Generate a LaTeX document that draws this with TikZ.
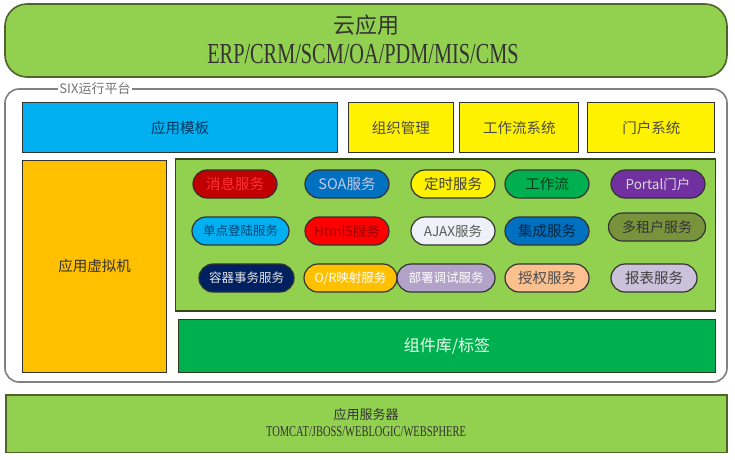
\documentclass[tikz,border=0pt]{standalone}
\usepackage{fontspec}
\setmainfont{Noto Sans CJK SC}
\newfontfamily\narrowserif{Liberation Serif}[FakeStretch=0.7]
\definecolor{cloudgreen}{HTML}{92D050}
\definecolor{edgegreen}{HTML}{4F6228}
\definecolor{skyblue}{HTML}{00B0F0}
\definecolor{seablue}{HTML}{0070C0}
\definecolor{darkred}{HTML}{C00000}
\definecolor{leafgreen}{HTML}{00B050}
\definecolor{amber}{HTML}{FFC000}
\definecolor{violet}{HTML}{7030A0}
\definecolor{navy}{HTML}{002060}
\definecolor{olive}{HTML}{77933C}
\definecolor{paleblue}{HTML}{EEF2F8}
\definecolor{lilac}{HTML}{B3A2C7}
\definecolor{peach}{HTML}{FAC090}
\definecolor{lavender}{HTML}{CCC1DA}
\tikzset{
    Box/.style = {rectangle, draw=black!80, line width=1.1pt, inner sep=0pt}
}
\tikzset{
    Pill/.style = {rectangle, rounded corners=14pt, draw=black!80, line width=1.2pt,
        minimum height=28, inner sep=0pt, font=\fontsize{14.5}{15}\selectfont}
}

\begin{document}
\begin{tikzpicture}[
    x=1pt, y=-1pt,
    font=\fontsize{14.5}{16}\selectfont
]
\tikzset{
    Label/.style = {inner sep=0pt, text=black!80},
}
\useasboundingbox (0,0) rectangle (735,459);

% cloud applications
\node[Box, fill=cloudgreen, draw=edgegreen, line width=1.6pt, rounded corners=22pt,
    minimum width=722, minimum height=73] at (366,40.5) (cloud) {};
\node[Label, font=\fontsize{22}{24}\selectfont] at (366,25) (cloudtitle) {云应用};
\node[Label, font=\narrowserif\fontsize{29}{30}\selectfont] at (363,54.5) (cloudapps)
    {ERP/CRM/SCM/OA/PDM/MIS/CMS};

% runtime platform
\node[Box, fill=white, draw=black!50, line width=1.6pt, rounded corners=14pt,
    minimum width=722, minimum height=293] at (366,235.5) (platform) {};
\node[fill=white, inner sep=1pt, text=black!55, font=\fontsize{13}{14}\selectfont]
    at (95,89) (platformtitle) {SIX运行平台};

\node[Box, fill=skyblue, text=seablue!50!black, minimum width=315, minimum height=50]
    at (180.2,127.7) (template) {应用模板};
\node[Box, fill=yellow, text=black!70, minimum width=105.7, minimum height=50]
    at (400.9,127.7) (org) {组织管理};
\node[Box, fill=yellow, text=black!70, minimum width=119, minimum height=50]
    at (519.4,127.7) (workflow) {工作流系统};
\node[Box, fill=yellow, text=black!70, minimum width=127, minimum height=50]
    at (651.4,127.7) (portal) {门户系统};
\node[Box, fill=amber, text=black!80, minimum width=144, minimum height=212]
    at (94.7,266.2) (vm) {应用虚拟机};
\node[Box, fill=cloudgreen, draw=edgegreen!70!black, minimum width=540, minimum height=152]
    at (445.7,235) (services) {};
\node[Box, fill=leafgreen, text=white!92!green, draw=edgegreen!60!black,
    minimum width=537.4, minimum height=53, font=\fontsize{16}{18}\selectfont]
    at (447,345.8) (components) {组件库/标签};

% services
\node[Pill, fill=darkred, text=red!80!white, minimum width=84] at (235,184) (msg) {消息服务};
\node[Pill, fill=seablue, text=blue!15!white!80!gray, minimum width=84] at (347,184) (soa) {SOA服务};
\node[Pill, fill=yellow, text=black!75, minimum width=84] at (453,184) (timer) {定时服务};
\node[Pill, fill=leafgreen, text=leafgreen!35!black, minimum width=84] at (547,184) (flow) {工作流};
\node[Pill, fill=violet, text=black!15, minimum width=94,
    font=\fontsize{13.5}{14}\selectfont] at (658,184) (portalsvc) {Portal门户};

\node[Pill, fill=skyblue, text=seablue!60!black, minimum width=97,
    font=\fontsize{12.5}{14}\selectfont] at (240.5,231) (sso) {单点登陆服务};
\node[Pill, fill=red, text=darkred!80!black, minimum width=84,
    font=\fontsize{13.5}{14}\selectfont] at (347,231) (html) {Html5服务};
\node[Pill, fill=paleblue, text=black!65, minimum width=84,
    font=\fontsize{13.5}{14}\selectfont] at (453,231) (ajax) {AJAX服务};
\node[Pill, fill=seablue, text=seablue!35!black, minimum width=84] at (547,231) (integ) {集成服务};
\node[Pill, fill=olive, text=black!80, minimum width=97,
    font=\fontsize{14}{15}\selectfont] at (657,227) (tenant) {多租户服务};

\node[Pill, fill=navy, text=black!10, minimum width=95,
    font=\fontsize{12.5}{14}\selectfont] at (246.5,278) (container) {容器事务服务};
\node[Pill, fill=amber, text=white, minimum width=93,
    font=\fontsize{12.5}{14}\selectfont] at (350.5,278) (orm) {O/R映射服务};
\node[Pill, fill=lilac, text=white, minimum width=98,
    font=\fontsize{12.5}{14}\selectfont] at (446,278) (deploy) {部署调试服务};
\node[Pill, fill=peach, text=black!70, minimum width=84] at (547,278) (auth) {授权服务};
\node[Pill, fill=lavender, text=black!75, minimum width=86] at (654,278) (report) {报表服务};

% application server
\node[Box, fill=cloudgreen, draw=edgegreen, line width=1.4pt,
    minimum width=721, minimum height=57.7] at (366.5,423.9) (server) {};
\node[Label, font=\fontsize{13}{14}\selectfont] at (366,414.5) (servertitle) {应用服务器};
\node[Label, font=\narrowserif\fontsize{15}{16}\selectfont] at (366,432) (serverlist)
    {TOMCAT/JBOSS/WEBLOGIC/WEBSPHERE};
\end{tikzpicture}
\end{document}
